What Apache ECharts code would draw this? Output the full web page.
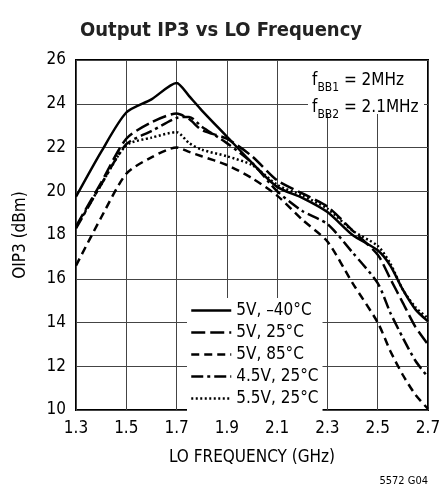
<!DOCTYPE html>
<html>
<head>
<meta charset="utf-8">
<script src="https://cdn.jsdelivr.net/npm/echarts@6/dist/echarts.min.js"></script>
<style>
  html, body { margin: 0; padding: 0; background: #fff; }
  #chart { width: 442px; height: 498px; }
</style>
</head>
<body>
<div id="chart"></div>
<script>
var FONT = '"Liberation Sans Narrow", "DejaVu Sans Condensed", sans-serif';

// LO frequency (GHz), shared by all curves
var freq = [1.3, 1.4, 1.5, 1.6, 1.7, 1.75, 1.8, 1.9, 2.0, 2.1, 2.2, 2.3, 2.4, 2.5, 2.55, 2.6, 2.65, 2.7];
var FREQ0 = 1.3; // axis starts here, ticks every 0.2

// OIP3 (dBm)
var v5_m40 = [19.75, 21.8, 23.6, 24.2, 24.95, 24.35, 23.7, 22.5, 21.3, 20.2, 19.7, 19.05, 18.0, 17.3, 16.6, 15.5, 14.6, 14.05];
var v5_25  = [18.4, 20.4, 22.4, 23.15, 23.55, 23.3, 22.8, 22.4, 21.6, 20.5, 19.9, 19.3, 18.2, 17.1, 16.0, 14.9, 13.8, 13.0];
var v5_85  = [16.6, 18.8, 20.8, 21.55, 22.0, 21.8, 21.6, 21.2, 20.6, 19.8, 18.7, 17.7, 15.8, 14.0, 12.7, 11.6, 10.7, 10.05];
var v45_25 = [18.3, 20.3, 22.15, 22.75, 23.35, 23.4, 22.95, 22.2, 21.3, 20.0, 19.1, 18.5, 17.2, 15.8, 14.45, 13.3, 12.25, 11.5];
var v55_25 = [18.35, 20.3, 22.1, 22.45, 22.7, 22.2, 21.9, 21.6, 21.2, 20.3, 19.8, 19.2, 18.2, 17.5, 16.7, 15.5, 14.7, 14.2];

var names = ['5V, \u201340\u00b0C', '5V, 25\u00b0C', '5V, 85\u00b0C', '4.5V, 25\u00b0C', '5.5V, 25\u00b0C'];
var values = [v5_m40, v5_25, v5_85, v45_25, v55_25];
var dashes = ['solid', [14, 5], [8, 5], [12, 4, 3, 4], [2, 2.5]];

var chart = echarts.init(document.getElementById('chart'), null, { renderer: 'canvas' });

var series = names.map(function (n, k) {
  return {
    name: n,
    type: 'line',
    symbol: 'none',
    showSymbol: false,
    smooth: 0.25,
    z: 3,
    lineStyle: { color: '#000', width: 2.5, type: dashes[k] },
    data: freq.map(function (f, i) { return [f - FREQ0, values[k][i]]; })
  };
});

var option = {
  animation: false,
  backgroundColor: '#fff',
  color: ['#000'],
  title: {
    text: 'Output IP3 vs LO Frequency',
    left: 'center',
    top: 16,
    textStyle: { fontFamily: FONT, fontSize: 20, fontWeight: 'bold', color: '#222' }
  },
  grid: {
    left: 76, right: 14, top: 60, bottom: 88,
    show: true, borderColor: '#000', borderWidth: 2,
    outerBoundsMode: 'none'
  },
  legend: {
    data: names,
    orient: 'vertical',
    left: 187,
    top: 298,
    itemWidth: 40,
    itemHeight: 14,
    itemGap: 5,
    padding: [4, 4, 5, 3],
    backgroundColor: '#fff',
    itemStyle: { color: 'rgba(0,0,0,0)', borderWidth: 0, opacity: 0 },
    lineStyle: { width: 2.5 },
    textStyle: { fontFamily: FONT, fontSize: 17, lineHeight: 16, color: '#000' }
  },
  xAxis: {
    type: 'value',
    min: 0,
    max: 1.4,
    interval: 0.2,
    name: 'LO FREQUENCY (GHz)',
    nameLocation: 'middle',
    nameGap: 39,
    nameTextStyle: { fontFamily: FONT, fontSize: 17, color: '#000' },
    axisLine: { show: false },
    axisTick: { show: false },
    axisLabel: {
      margin: 10,
      fontFamily: FONT, fontSize: 17, color: '#000',
      formatter: function (v) { return (v + FREQ0).toFixed(1); }
    },
    splitLine: { show: true, lineStyle: { color: '#444', width: 1 } }
  },
  yAxis: {
    type: 'value',
    min: 10,
    max: 26,
    interval: 2,
    name: 'OIP3 (dBm)',
    nameLocation: 'middle',
    nameGap: 47,
    nameTextStyle: { fontFamily: FONT, fontSize: 17, color: '#000' },
    axisLine: { show: false },
    axisTick: { show: false },
    axisLabel: { margin: 10, fontFamily: FONT, fontSize: 17, color: '#000' },
    splitLine: { show: true, lineStyle: { color: '#444', width: 1 } }
  },
  graphic: [
    {
      type: 'rect', z: 1,
      shape: { x: 308, y: 61, width: 116, height: 53 },
      style: { fill: '#fff' }
    },
    {
      type: 'text', z: 5,
      x: 312, y: 67,
      style: {
        text: '{a|f}{s|BB1}{a| = 2MHz}\n{a|f}{s|BB2}{a| = 2.1MHz}',
        fill: '#000',
        rich: {
          a: { fontFamily: FONT, fontSize: 17, lineHeight: 22, fill: '#000' },
          s: { fontFamily: FONT, fontSize: 12, lineHeight: 27, verticalAlign: 'bottom', fill: '#000' }
        }
      }
    },
    {
      type: 'text', z: 5,
      x: 428, y: 481,
      style: {
        text: '5572 G04',
        fill: '#000',
        align: 'right',
        verticalAlign: 'middle',
        font: '11px ' + FONT
      }
    }
  ],
  series: series
};

chart.setOption(option);
</script>
</body>
</html>
